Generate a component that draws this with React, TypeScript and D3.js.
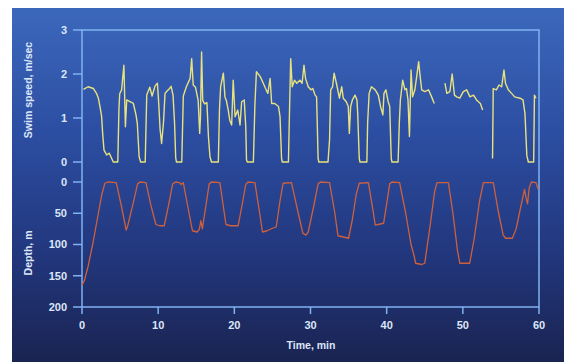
import React, { useEffect, useRef } from 'react'
import * as d3 from 'd3'

// minutes, swim speed (m/sec); null = no record
const swimSpeed: [number, number | null][] = [
  [0.2, 1.65], [0.8, 1.71], [1.5, 1.67], [1.9, 1.56], [2.15, 1.45], [2.36, 1.26], [2.58, 1.03], [2.71, 0.65],
  [2.89, 0.27], [3.24, 0.16], [3.59, 0.2], [3.9, 0.08], [4.1, 0], [4.7, 0], [4.85, 1.2], [4.95, 1.55],
  [5.2, 1.64], [5.5, 2.2], [5.7, 0.8], [5.87, 1.41], [6.3, 1.37], [6.74, 1.33], [7.09, 1.07], [7.26, 0.88],
  [7.5, 0.12], [7.7, 0], [8.3, 0], [8.5, 1.52], [8.9, 1.7], [9.2, 1.5], [9.6, 1.73], [9.9, 1.79],
  [10.05, 1.4], [10.25, 0.75], [10.45, 0.42], [10.7, 0.9], [10.9, 1.56], [11.2, 1.62], [11.5, 1.67], [11.7, 1.72],
  [11.95, 1.52], [12.15, 0.9], [12.3, 0.1], [12.4, 0], [13.1, 0], [13.3, 1.5], [13.7, 1.71], [14.2, 1.9],
  [14.4, 2.35], [14.6, 1.75], [14.9, 1.7], [15.25, 1.4], [15.45, 0.65], [15.55, 1.0], [15.7, 2.5], [15.85, 1.4],
  [16.1, 1.32], [16.4, 1.35], [16.6, 0.58], [16.8, 0.12], [17.0, 0], [17.9, 0], [18.05, 1.2], [18.2, 1.71],
  [18.56, 2.02], [18.77, 1.48], [18.95, 1.4], [19.2, 1.18], [19.4, 0.95], [19.65, 0.84], [19.85, 1.86], [20.1, 1.03],
  [20.45, 1.18], [20.75, 0.84], [20.96, 1.37], [21.3, 1.41], [21.5, 0.8], [21.6, 0.05], [21.7, 0], [22.5, 0],
  [22.7, 1.3], [22.9, 2.05], [23.4, 1.94], [23.8, 1.79], [24.1, 1.67], [24.4, 1.56], [24.7, 1.9], [24.9, 1.33],
  [25.3, 1.33], [25.8, 1.26], [26.0, 1.03], [26.2, 0.08], [26.3, 0], [27.1, 0], [27.25, 1.2], [27.4, 2.35],
  [27.6, 1.71], [27.9, 1.86], [28.2, 1.79], [28.6, 1.86], [28.9, 1.79], [29.14, 2.2], [29.35, 1.9], [29.7, 1.71],
  [30.06, 1.64], [30.3, 1.67], [30.6, 1.52], [30.8, 1.48], [31.0, 0.08], [31.1, 0], [32.3, 0], [32.5, 0.5],
  [32.65, 1.64], [32.9, 1.71], [33.1, 2.02], [33.4, 1.79], [33.8, 1.45], [34.1, 1.71], [34.3, 1.45], [34.7, 1.37],
  [34.96, 1.26], [35.1, 0.65], [35.27, 1.26], [35.5, 1.41], [35.85, 1.52], [36.1, 1.41], [36.2, 1.1], [36.4, 0.08],
  [36.5, 0], [37.4, 0], [37.5, 0.88], [37.7, 1.56], [38.0, 1.71], [38.5, 1.64], [38.9, 1.52], [39.2, 1.26],
  [39.5, 1.07], [39.65, 1.56], [39.9, 1.64], [40.2, 1.37], [40.4, 1.26], [40.6, 0.08], [40.7, 0], [41.5, 0],
  [41.66, 0.88], [41.8, 1.41], [42.1, 1.86], [42.4, 1.64], [42.6, 1.67], [42.8, 1.41], [42.99, 0.58], [43.2, 2.09],
  [43.4, 1.48], [43.7, 1.64], [43.94, 1.94], [44.2, 2.28], [44.4, 1.94], [44.6, 1.64], [45.0, 1.6], [45.5, 1.64],
  [45.9, 1.48], [46.25, 1.33], [47.0, null],
  [47.65, 1.79], [47.9, 1.56], [48.3, 1.6], [48.6, 2.0], [48.9, 1.52], [49.2, 1.48], [49.6, 1.45], [50.06, 1.6],
  [50.5, 1.64], [50.94, 1.48], [51.4, 1.52], [51.8, 1.41], [52.3, 1.33], [52.6, 1.18], [53.2, null],
  [53.9, 0.08], [53.99, 1.67], [54.4, 1.64], [54.75, 1.75], [55.1, 1.71], [55.4, 2.09], [55.6, 1.79], [55.97, 1.64],
  [56.4, 1.56], [56.8, 1.48], [57.5, 1.45], [57.9, 1.41], [58.16, 1.1], [58.4, 0.15], [58.6, 0], [59.3, 0],
  [59.4, 1.52], [59.6, 1.45],
]

// minutes, depth (m)
const depth: [number, number][] = [
  [0, 165], [0.3, 158], [0.8, 135], [1.4, 100], [2.0, 60], [2.6, 20], [3.0, 2], [3.4, 0], [4.5, 1], [5.2, 40],
  [5.8, 77], [6.0, 70], [6.7, 35], [7.3, 3], [7.6, 0], [8.4, 1], [9.0, 35], [9.7, 68], [10.2, 70], [10.8, 70],
  [11.4, 35], [11.9, 3], [12.3, 0], [12.8, 1], [13.0, 4], [13.3, 1], [13.9, 40], [14.5, 78], [15.1, 80], [15.4, 76],
  [15.6, 62], [15.8, 75], [16.3, 35], [16.7, 3], [17.0, 0], [18.1, 1], [18.9, 68], [19.5, 70], [20.5, 70], [21.0, 38],
  [21.5, 4], [21.8, 0], [22.7, 1], [23.2, 40], [23.7, 80], [24.3, 78], [25.0, 74], [25.5, 72], [26.0, 30], [26.4, 2],
  [27.5, 1], [28.3, 45], [29.0, 82], [29.4, 85], [29.7, 80], [30.4, 40], [31.0, 3], [31.3, 0], [32.5, 1], [33.2, 50],
  [33.6, 86], [34.3, 88], [35.0, 90], [35.5, 60], [36.0, 20], [36.4, 2], [37.6, 1], [38.2, 45], [38.5, 69], [39.6, 66],
  [40.0, 35], [40.4, 3], [40.7, 0], [41.7, 1], [42.5, 50], [43.2, 100], [43.6, 118], [43.8, 130], [44.6, 132], [45.0, 130],
  [45.7, 70], [46.3, 15], [46.6, 1], [48.1, 1], [48.7, 50], [49.3, 110], [49.6, 130], [50.9, 130], [51.5, 90], [52.2, 30],
  [52.7, 1], [54.0, 1], [54.7, 50], [55.3, 85], [55.6, 90], [56.5, 90], [57.0, 75], [57.6, 40], [58.1, 12], [58.3, 25],
  [58.5, 35], [58.7, 10], [59.0, 0], [59.6, 1], [59.9, 12],
]

const timeTicks = [0, 10, 20, 30, 40, 50, 60]
const speedTicks = [0, 1, 2, 3]
const depthTicks = [0, 50, 100, 150, 200]

const W = 571
const H = 362
const axisColor = '#7fb2f0'
const textColor = '#dce6f8'
const font = 'Liberation Sans, Arial, sans-serif'

function DiveChart() {
  const ref = useRef<SVGSVGElement>(null)

  useEffect(() => {
    const svg = d3.select(ref.current)
    svg.selectAll('*').remove()

    const x = d3.scaleLinear().domain([0, 60]).range([82, 539])
    const ySpeed = d3.scaleLinear().domain([0, 3]).range([162, 30])
    const yDepth = d3.scaleLinear().domain([0, 200]).range([182, 307])

    const defs = svg.append('defs')
    const grad = defs.append('linearGradient').attr('id', 'bg').attr('x1', 0).attr('y1', 0).attr('x2', 0).attr('y2', 1)
    grad.append('stop').attr('offset', '0%').attr('stop-color', '#3c68bc')
    grad.append('stop').attr('offset', '35%').attr('stop-color', '#2c4ea2')
    grad.append('stop').attr('offset', '70%').attr('stop-color', '#22367c')
    grad.append('stop').attr('offset', '100%').attr('stop-color', '#1a2452')

    svg.append('rect').attr('width', W).attr('height', H).attr('fill', '#ffffff')
    svg.append('rect')
      .attr('x', 12).attr('y', 8).attr('width', 552).attr('height', H - 8)
      .attr('fill', 'url(#bg)')

    // frame
    const frame = svg.append('g').attr('stroke', axisColor).attr('stroke-width', 1.5).attr('fill', 'none')
    frame.append('path').attr('d', `M${x(0)},${ySpeed(3)}H${x(60)}V${yDepth(200)}H${x(0)}Z`)

    // y ticks
    const yTick = (vals: number[], scale: d3.ScaleLinear<number, number>) => {
      const g = svg.append('g')
      g.selectAll('line').data(vals).enter().append('line')
        .attr('x1', x(0) - 9).attr('x2', x(0))
        .attr('y1', d => scale(d)).attr('y2', d => scale(d))
        .attr('stroke', axisColor).attr('stroke-width', 1.5)
      g.selectAll('text').data(vals).enter().append('text')
        .attr('x', 67).attr('y', d => scale(d)).attr('dy', '0.35em')
        .attr('text-anchor', 'end')
        .attr('fill', textColor).attr('font-family', font).attr('font-size', 11).attr('font-weight', 'bold')
        .text(d => d)
    }
    yTick(speedTicks, ySpeed)
    yTick(depthTicks, yDepth)

    const xg = svg.append('g')
    xg.selectAll('line').data(timeTicks).enter().append('line')
      .attr('x1', d => x(d)).attr('x2', d => x(d))
      .attr('y1', yDepth(200)).attr('y2', yDepth(200) + 7)
      .attr('stroke', axisColor).attr('stroke-width', 1.5)
    xg.selectAll('text').data(timeTicks).enter().append('text')
      .attr('x', d => x(d)).attr('y', 329)
      .attr('text-anchor', 'middle')
      .attr('fill', textColor).attr('font-family', font).attr('font-size', 11).attr('font-weight', 'bold')
      .text(d => d)

    svg.append('text')
      .attr('x', 311).attr('y', 349).attr('text-anchor', 'middle')
      .attr('fill', textColor).attr('font-family', font).attr('font-size', 10.5).attr('font-weight', 'bold')
      .text('Time, min')

    svg.append('text')
      .attr('transform', `translate(32, ${(ySpeed(0) + ySpeed(3)) / 2 - 6}) rotate(-90)`)
      .attr('text-anchor', 'middle')
      .attr('fill', textColor).attr('font-family', font).attr('font-size', 10.5).attr('font-weight', 'bold')
      .text('Swim speed, m/sec')

    svg.append('text')
      .attr('transform', `translate(32, 253) rotate(-90)`)
      .attr('text-anchor', 'middle')
      .attr('fill', textColor).attr('font-family', font).attr('font-size', 10.5).attr('font-weight', 'bold')
      .text('Depth, m')

    const speedLine = d3.line<[number, number | null]>()
      .defined(d => d[1] != null)
      .x(d => x(d[0]))
      .y(d => ySpeed(d[1] as number))
    svg.append('path').datum(swimSpeed)
      .attr('d', speedLine)
      .attr('fill', 'none').attr('stroke', '#e8e27e').attr('stroke-width', 1.4)
      .attr('stroke-linejoin', 'round')

    const depthLine = d3.line<[number, number]>()
      .x(d => x(d[0]))
      .y(d => yDepth(d[1]))
    svg.append('path').datum(depth)
      .attr('d', depthLine)
      .attr('fill', 'none').attr('stroke', '#cf603c').attr('stroke-width', 1.3)
      .attr('stroke-linejoin', 'round')
  }, [])

  return <svg ref={ref} width={W} height={H} style={{ position: 'absolute', left: 0, top: 0 }} />
}

export default function App() {
  return <DiveChart />
}
